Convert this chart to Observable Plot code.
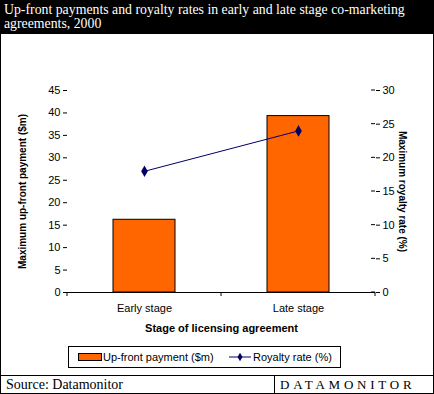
<!DOCTYPE html>
<html>
<head>
<meta charset="utf-8">
<script src="https://cdn.jsdelivr.net/npm/d3@7"></script>
<script src="https://cdn.jsdelivr.net/npm/@observablehq/plot@0.6"></script>
<style>
  html, body { margin: 0; padding: 0; background: #fff; }
  #wrap { position: relative; width: 434px; height: 394px; background: #fff; overflow: hidden; }
  #title { position: absolute; left: 0; top: 0; height: 33px; background: #000; color: #fff; width: 434px;
           font-family: "Liberation Serif", "Times New Roman", serif; font-size: 13.8px; line-height: 14px; padding: 3px 0 0 4px; box-sizing: border-box; }
  #panel { position: absolute; left: 0; top: 33px; width: 434px; height: 343px; border: 1px solid #000; box-sizing: border-box; }
  #chart { position: absolute; left: 0; top: 34px; }
  #legend { position: absolute; left: 68px; top: 346px; width: 273px; height: 22px; border: 1px solid #000; box-sizing: border-box;
            font-family: "Liberation Sans", Arial, sans-serif; font-size: 11px; }
  #legend .item { position: absolute; top: 3px; line-height: 14px; }
  #footer { position: absolute; left: 0; top: 375px; width: 434px; height: 19px; border: 1px solid #000; box-sizing: border-box;
            font-family: "Liberation Serif", "Times New Roman", serif; font-size: 14px; line-height: 17px; }
  #footer .src { position: absolute; left: 5px; top: 0; }
  #footer .div { position: absolute; left: 273px; top: 0; width: 1px; height: 18px; background: #000; }
  #footer .brand { position: absolute; left: 279px; top: 0; font-size: 13px; letter-spacing: 3.75px; }
</style>
</head>
<body>
<div id="wrap">
  <div id="title">Up-front payments and royalty rates in early and late stage co-marketing<br>agreements, 2000</div>
  <div id="panel"></div>
  <div id="chart"></div>
  <div id="legend"></div>
  <div id="footer"><span class="src">Source: Datamonitor</span><span class="div"></span><span class="brand">DATAMONITOR</span></div>
</div>
<script>
const categories = ["Early stage", "Late stage"];
const upfrontPayment = [16.2, 39.3];   // $m, left axis
const royaltyRate = [18, 24];          // %, right axis
const leftTicks = [0, 5, 10, 15, 20, 25, 30, 35, 40, 45];
const rightTicks = [0, 5, 10, 15, 20, 25, 30];
const seriesNames = ["Up-front payment ($m)", "Royalty rate (%)"];

const leftMax = 45, rightMax = 30;
const k = leftMax / rightMax;
const data = categories.map((c, i) => ({cat: c, up: upfrontPayment[i], roy: royaltyRate[i]}));
const font = "Liberation Sans, Arial, sans-serif";
const orange = "#FF6600", navy = "#000066";

const plot = Plot.plot({
  width: 434, height: 310,
  marginTop: 56, marginBottom: 52, marginLeft: 67, marginRight: 59,
  style: {fontFamily: font, fontSize: "11px", color: "#000", background: "transparent", overflow: "visible"},
  x: {type: "band", domain: categories, paddingInner: 0.6, paddingOuter: 0.3, axis: null},
  y: {domain: [0, leftMax], axis: null},
  marks: [
    Plot.barY(data, {x: "cat", y: "up", fill: orange, stroke: "#000", strokeWidth: 1}),
    Plot.ruleY([0], {stroke: "#000"}),
    Plot.axisX({tickSize: 0, tickPadding: 12, label: null, fontSize: 11}),
    Plot.axisY({ticks: leftTicks, tickSize: 4, line: true, label: null, fontSize: 11, tickPadding: 3}),
    Plot.axisY({anchor: "right", ticks: rightTicks.map(v => v * k), tickFormat: d => Math.round(d / k), tickSize: 4, line: true, label: null, fontSize: 11, tickPadding: 3}),
    Plot.line(data, {x: "cat", y: d => d.roy * k, stroke: navy, strokeWidth: 1}),
    Plot.dot(data, {x: "cat", y: d => d.roy * k, symbol: "diamond", r: 2.6, fill: navy, stroke: navy}),
    Plot.text(["Maximum up-front payment ($m)"], {frameAnchor: "left", textAnchor: "middle", dx: -45, rotate: -90, fontWeight: "bold", fontSize: 10}),
    Plot.text(["Maximum royalty rate (%)"], {frameAnchor: "right", textAnchor: "middle", dx: 27, rotate: 90, fontWeight: "bold", fontSize: 10}),
    Plot.text(["Stage of licensing agreement"], {frameAnchor: "bottom", dy: 39, fontWeight: "bold", fontSize: 11})
  ]
});
document.getElementById("chart").appendChild(plot);

// category boundary tick marks on the x axis, and inward ticks on the right axis, from Plot's scales
const xs = plot.scale("x"), ys = plot.scale("y");
const svg = d3.select(plot);
const y0 = ys.apply(0);
const gap = (xs.step - xs.bandwidth) / 2;
const bounds = categories.map(c => xs.apply(c) - gap).concat([xs.apply(categories[categories.length - 1]) + xs.bandwidth + gap]);
svg.append("g").selectAll("line").data(bounds).join("line")
  .attr("x1", d => d).attr("x2", d => d).attr("y1", y0).attr("y2", y0 + 4).attr("stroke", "#000");
const xr = xs.range[1];
svg.append("g").selectAll("line").data(rightTicks).join("line")
  .attr("x1", xr - 4).attr("x2", xr).attr("y1", d => ys.apply(d * k)).attr("y2", d => ys.apply(d * k)).attr("stroke", "#000");

// legend
const lg = d3.select("#legend");
lg.append("div").style("position", "absolute").style("left", "9px").style("top", "6px")
  .style("width", "22px").style("height", "6px").style("background", orange).style("border", "1px solid #000");
lg.append("div").attr("class", "item").style("left", "34px").text(seriesNames[0]);
const ls = lg.append("svg").attr("width", 24).attr("height", 10).style("position", "absolute").style("left", "160px").style("top", "5px");
ls.append("line").attr("x1", 0).attr("x2", 22).attr("y1", 5).attr("y2", 5).attr("stroke", navy);
ls.append("path").attr("d", d3.symbol(d3.symbolDiamond, 22)()).attr("transform", "translate(11,5)").attr("fill", navy);
lg.append("div").attr("class", "item").style("left", "184px").text(seriesNames[1]);
</script>
</body>
</html>
